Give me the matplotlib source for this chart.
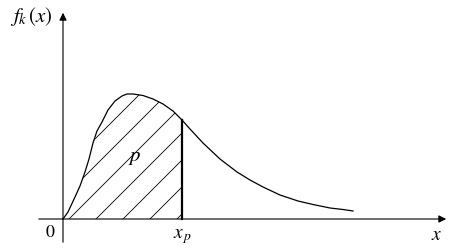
import matplotlib
matplotlib.use("Agg")
import matplotlib.pyplot as plt
from matplotlib.patches import Polygon
import numpy as np

# density curve (units: roughly one pixel)
curve_x = [0, 5, 12, 17, 22, 26, 30, 34, 39, 45, 52, 59, 64, 70, 80, 90, 100, 110,
           119, 127, 140, 157, 174, 187, 200, 217, 235, 250, 267, 280, 290]
curve_y = [0, 7, 22, 33, 47, 60, 76, 88, 97, 109, 118, 123, 125, 125, 123.5, 120, 115, 108,
           99, 90, 76, 60, 47, 39, 32, 24, 18, 14.5, 11, 9.5, 8]
x_p = 119
y_p = 99

plt.rcParams['mathtext.fontset'] = 'stix'

fig = plt.figure(figsize=(4.51, 2.5), dpi=100)
ax = fig.add_axes([0, 0, 1, 1])
ax.set_xlim(-63, 388)
ax.set_ylim(-31, 219)
ax.axis('off')

# axes with arrows
ax.annotate('', xy=(386, 0), xytext=(-27, 0),
            arrowprops=dict(arrowstyle='-|>', lw=0.8, color='k', mutation_scale=11))
ax.annotate('', xy=(0, 209), xytext=(0, -26),
            arrowprops=dict(arrowstyle='-|>', lw=0.8, color='k', mutation_scale=11))

# curve
ax.plot(curve_x, curve_y, color='k', lw=0.9)

# hatched area up to x_p
xs = np.array(curve_x)
ys = np.array(curve_y)
keep = xs <= x_p
pts = list(zip(xs[keep], ys[keep])) + [(x_p, 0), (0, 0)]
region = Polygon(pts, closed=True, fill=False, lw=0)
ax.add_patch(region)
for c in range(6 - 27 * 6, x_p + 27, 27):
    ln, = ax.plot([c - 10, c + 200], [-10, 200], color='k', lw=0.6)
    ln.set_clip_path(region)

ax.plot([x_p, x_p], [0, y_p], color='k', lw=1.6)

# labels
ax.text(-32, 202, r'$f_k\,(x)$', fontsize=15, ha='center', va='center')
ax.text(-13, -13, r'$0$', fontsize=13, ha='center', va='center')
ax.text(120, -17, r'$x_{\,p}$', fontsize=14, ha='center', va='center')
ax.text(374, -15, r'$x$', fontsize=14, ha='center', va='center')
ax.text(72, 62, r'$p$', fontsize=15, ha='center', va='center')

fig.savefig('out.png', dpi=100)
